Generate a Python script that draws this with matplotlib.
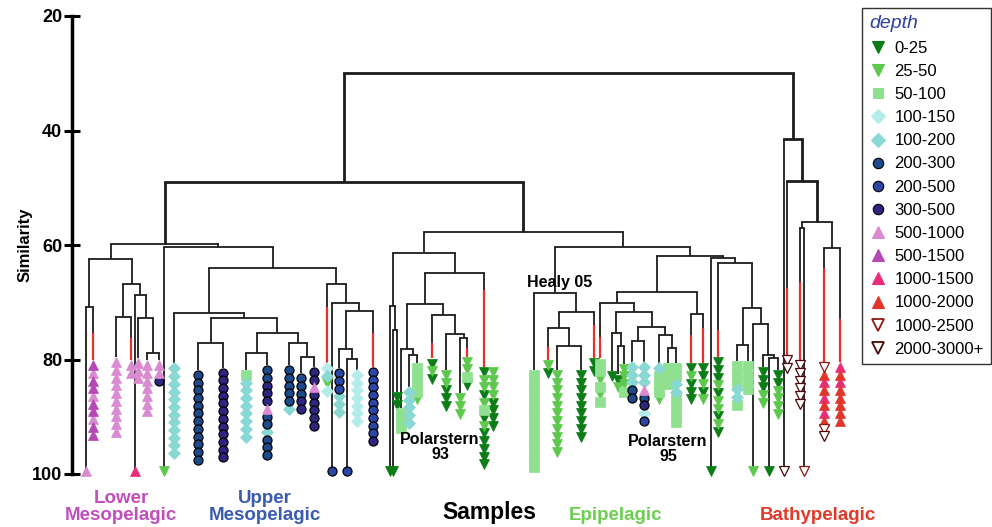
import matplotlib
matplotlib.use("Agg")
import matplotlib.pyplot as plt
from matplotlib.lines import Line2D

plt.rcParams['font.family'] = ['Liberation Sans', 'DejaVu Sans']

########## depth classes (legend) ##########
depth_codes = list("abcdefghijklmn")
depth_labels = ["0-25", "25-50", "50-100", "100-150", "100-200", "200-300", "200-500",
                "300-500", "500-1000", "500-1500", "1000-1500", "1000-2000", "1000-2500", "2000-3000+"]
depth_marker = ['v', 'v', 's', 'D', 'D', 'o', 'o', 'o', '^', '^', '^', '^', 'v', 'v']
depth_size = [7.5, 7.5, 6.5, 6.0, 6.0, 6.5, 6.5, 6.5, 7.5, 7.5, 7.5, 7.5, 7.0, 7.0]
depth_face = ['#0b7d16', '#5cc84c', '#8fe08f', '#b3ece8', '#8ad8d4', '#1d4a8a', '#2b46a5',
              '#2e2580', '#d98ad0', '#b548b5', '#ea2c7a', '#e2352a', 'white', 'white']
depth_edge = ['#0b7d16', '#5cc84c', '#8fe08f', '#b3ece8', '#8ad8d4', 'black', 'black',
              'black', '#d98ad0', '#b548b5', '#ea2c7a', '#e2352a', '#8b1a12', '#4a0808']

########## leaves (sample groups), left to right ##########
leaf_names = ["L1", "L2", "L3", "L4", "L5", "L6", "L7", "L8", "L9",
              "U1", "U2", "U3", "U4", "U5", "U6", "U7", "U8", "U9", "U10", "U11", "U12", "U13", "U14",
              "E1", "E2", "E3", "E4", "E5", "E6", "E7", "E8", "E9", "E10", "E11",
              "H1", "H2", "H3", "H4", "H5",
              "P1", "P2", "P3", "P4", "P5", "P6", "P7", "P8", "P9", "Q1", "Q2",
              "R1", "R2", "R3", "R4", "R5", "R6", "R7", "R8",
              "B1", "B2", "B3", "B4", "B5", "B6"]
leaf_x = [86, 93, 116, 131, 135, 138.3, 147.3, 159.3, 164,
          174, 198.3, 223.3, 246, 267.3, 289, 300.7, 314, 326.7, 332.3, 339, 347.3, 357.3, 373.3,
          390, 393.5, 397, 400.7, 409, 417.3, 432.3, 445.7, 460, 467.3, 484,
          534, 548, 557.5, 581, 594,
          600, 612, 618, 624, 632.3, 644, 659, 668.3, 675.7, 691, 703.3,
          710.7, 718.3, 737, 748.3, 753.3, 763, 769.3, 778.3,
          784.3, 787.3, 800, 804.3, 824, 840]
# similarity where the leaf line ends (100 = single sample at the bottom)
leaf_end = [100, 80.1, 79.6, 80.1, 100, 79.7, 80.1, 80.1, 100,
            80.66, 81.8, 81.4, 81.8, 81.0, 81.0, 82.4, 81.25, 80.6, 100, 81.5, 100, 81.8, 81.25,
            100, 100, 85.7, 88.4, 84.75, 80.66, 79.8, 81.8, 85.9, 79.5, 81.25,
            81.8, 80.1, 81.8, 81.8, 79.74,
            79.8, 82.0, 82.6, 80.7, 80.4, 80.4, 80.66, 80.66, 80.66, 80.66, 80.66,
            100, 79.6, 80.26, 80.26, 100, 81.25, 100, 81.83,
            100, 79.21, 80.1, 100, 80.4, 80.4]
# similarity where the red part of the leaf line starts (None = all black)
leaf_red = [None, 75.32, None, 76.24, None, None, None, None, None,
            None, None, None, None, None, None, None, None, 70.78, None, None, None, None, 75.42,
            None, None, None, None, None, None, 77.1, None, None, 78.0, 67.86,
            None, 77.76, None, None, 73.97,
            76.0, None, None, None, None, None, None, None, None, 75.7, 74.55,
            None, 74.85, None, None, None, None, None, None,
            None, 67.56, 66.4, None, 64.07, 72.98]
# depth class of every sample in the group, top to bottom ('|' = next column)
leaf_marks = ["i", "jijjijjijj", "iiiiiiiiii", "ii", "k", "iii", "iiiiiii", "iih", "b",
              "eeeeeeeeeeee", "ffffffffffff", "hhhhhhhhhhhh", "ceeeeeeee", "ffhhhiffefff", "fffffe",
              "fffhh", "hhihhhhh", "debd", "g", "gggeee", "g", "ddddddd", "gggggggggh",
              "a", "a", "aa", "ccc", "eeeee", "ccccb", "aba", "bbaaa", "bbb", "bbca",
              "abbabcabaaaaa|bbbbaaaa",
              "ccccccccccccc", "ba", "bbbbbbbbbbb", "aaaaaaaaa", "aa",
              "ccbcbc", "a", "ab", "bbbc", "eeeff", "eeeifhdg", "ecccb", "ccc", "cceecccc",
              "abaaa", "aabab",
              "a", "aaababbaba", "ccceec", "cccc", "b", "aaabb", "a", "aabbbb",
              "n", "nn", "nnnnnn", "m", "mlklklklmn", "klklllll"]

########## merges: (name, left, right, similarity) ##########
merges = [
    ("l78", "L7", "L8", 78.92), ("l678", "L6", "l78", 72.8), ("l5678", "L5", "l678", 68.68),
    ("l34", "L3", "L4", 72.63), ("l3_8", "l34", "l5678", 66.81), ("l12", "L1", "L2", 70.88),
    ("lower", "l12", "l3_8", 62.5),
    ("u23", "U2", "U3", 77.17), ("u78", "U7", "U8", 79.51), ("u678", "U6", "u78", 77.17),
    ("u45", "U4", "U5", 78.81), ("u4_8", "u45", "u678", 75.42), ("u2_8", "u23", "u4_8", 72.8),
    ("u1_8", "U1", "u2_8", 71.82), ("u1213", "U12", "U13", 79.91), ("u11_13", "U11", "u1213", 78.17),
    ("u11_14", "u11_13", "U14", 71.48), ("u10_14", "U10", "u11_14", 70.18),
    ("u9_14", "U9", "u10_14", 66.86), ("upper", "u1_8", "u9_14", 64.07),
    ("up9", "L9", "upper", 60.3), ("meso", "lower", "up9", 59.83),
    ("e23", "E2", "E3", 74.85), ("e123", "E1", "e23", 70.66), ("e56", "E5", "E6", 79.21),
    ("e456", "E4", "e56", 78.22), ("e910", "E9", "E10", 76.3), ("e8_10", "E8", "e910", 75.55),
    ("e7_10", "E7", "e8_10", 72.23), ("e4_10", "e456", "e7_10", 70.31),
    ("e4_11", "e4_10", "E11", 64.94), ("ps93", "e123", "e4_11", 61.34),
    ("h34", "H3", "H4", 77.64), ("h234", "H2", "h34", 74.55), ("h2_5", "h234", "H5", 71.65),
    ("healy", "H1", "h2_5", 68.43),
    ("p34", "P3", "P4", 77.6), ("p234", "P2", "p34", 75.4), ("p56", "P5", "P6", 76.7),
    ("p89", "P8", "P9", 78.0), ("p789", "P7", "p89", 75.7), ("p5_9", "p56", "p789", 74.27),
    ("p2_9", "p234", "p5_9", 71.65), ("p1_9", "P1", "p2_9", 70.08), ("q12", "Q1", "Q2", 72.1),
    ("ps95", "p1_9", "q12", 68.16),
    ("r34", "R3", "R4", 77.52), ("r78", "R7", "R8", 79.68), ("r678", "R6", "r78", 79.21),
    ("r5_8", "R5", "r678", 73.8), ("r3_8", "r34", "r5_8", 71.06), ("r2_8", "R2", "r3_8", 63.09),
    ("r1_8", "R1", "r2_8", 62.32), ("pr", "ps95", "r1_8", 61.9),
    ("epi_r", "healy", "pr", 60.27), ("epi", "ps93", "epi_r", 57.68),
    ("shallow", "meso", "epi", 49.0),
    ("b34", "B3", "B4", 56.98), ("b56", "B5", "B6", 60.58), ("b3_6", "b34", "b56", 56.03),
    ("b2_6", "B2", "b3_6", 48.77), ("bathy", "B1", "b2_6", 41.49),
    ("root", "shallow", "bathy", 29.96),
]

line_col = '#1c1c1c'
red_col = '#e8302a'

fig = plt.figure(figsize=(9.92, 5.27), dpi=100)
W, H = 992, 527
ax = fig.add_axes([72 / W, 1 - 474 / H, (860 - 72) / W, (474 - 16) / H])
ax.set_xlim(72, 860)
ax.set_ylim(100, 20)

# x position of every node (parent = middle of its two children)
pos = dict(zip(leaf_names, leaf_x))
merge_h = {}
for name, l, r, h in merges:
    pos[name] = (pos[l] + pos[r]) / 2
    merge_h[name] = h
leaf_idx = {n: i for i, n in enumerate(leaf_names)}


def drop(child, h, lw):
    x = pos[child]
    if child in merge_h:
        ax.plot([x, x], [h, merge_h[child]], color=line_col, lw=lw, clip_on=False, solid_capstyle='butt')
        return
    i = leaf_idx[child]
    end, red = leaf_end[i], leaf_red[i]
    if red is None:
        ax.plot([x, x], [h, end], color=line_col, lw=1.3, clip_on=False, solid_capstyle='butt')
    else:
        ax.plot([x, x], [h, red], color=line_col, lw=1.3, clip_on=False, solid_capstyle='butt')
        ax.plot([x, x], [red, end], color=red_col, lw=1.6, clip_on=False, solid_capstyle='butt')


for name, l, r, h in merges:
    lw = 2.0 if h < 55 else 1.3
    ax.plot([pos[l], pos[r]], [h, h], color=line_col, lw=lw, solid_capstyle='projecting')
    drop(l, h, lw)
    drop(r, h, 1.3 if r in leaf_idx else lw)

# sample markers
pts = {c: ([], []) for c in depth_codes}
for i, marks in enumerate(leaf_marks):
    for k, col in enumerate(marks.split('|')):
        x = leaf_x[i] + 9 * k
        for j, c in enumerate(col):
            y = 99.4 if leaf_end[i] >= 100 else leaf_end[i] + 0.9 + 1.345 * j
            pts[c][0].append(x)
            pts[c][1].append(y)
for k, c in enumerate(depth_codes):
    ax.plot(pts[c][0], pts[c][1], ls='none', marker=depth_marker[k], ms=depth_size[k],
            mfc=depth_face[k], mec=depth_edge[k], mew=0.9 if depth_face[k] == 'white' or depth_marker[k] == 'o' else 0.5,
            clip_on=False, zorder=3)

# axis
for s in ['top', 'right', 'bottom']:
    ax.spines[s].set_visible(False)
ax.spines['left'].set_linewidth(2.5)
ax.set_xticks([])
ax.set_yticks([20, 40, 60, 80, 100])
ax.tick_params(axis='y', direction='inout', length=12, width=2.2, pad=1, labelsize=13)
for t in ax.get_yticklabels():
    t.set_fontweight('bold')
ax.set_ylabel("Similarity", fontweight='bold', fontsize=12)
ax.yaxis.set_label_coords(-0.050, 0.5)

# annotations
ax.text(560, 66.6, "Healy 05", fontsize=11.5, fontweight='bold', ha='center', va='center')
ax.text(440, 95.2, "Polarstern\n93", fontsize=11.5, fontweight='bold', ha='center', va='center', linespacing=1.0)
ax.text(668, 95.6, "Polarstern\n95", fontsize=11.5, fontweight='bold', ha='center', va='center', linespacing=1.0)

fig.text(121 / W, 1 - 507 / H, "Lower\nMesopelagic", color='#c04fbd', fontsize=13.5, fontweight='bold',
         ha='center', va='center', linespacing=1.0)
fig.text(265 / W, 1 - 507 / H, "Upper\nMesopelagic", color='#3a5bb0', fontsize=13.5, fontweight='bold',
         ha='center', va='center', linespacing=1.0)
fig.text(489 / W, 1 - 513 / H, "Samples", color='black', fontsize=16.5, fontweight='bold', ha='center', va='center')
fig.text(615 / W, 1 - 516 / H, "Epipelagic", color='#6ccf4f', fontsize=13.5, fontweight='bold', ha='center', va='center')
fig.text(818 / W, 1 - 516 / H, "Bathypelagic", color='#e03a2a', fontsize=13.5, fontweight='bold', ha='center', va='center')

# legend
handles = [Line2D([], [], ls='none', marker=depth_marker[k], ms=depth_size[k] + 1, mfc=depth_face[k],
                  mec=depth_edge[k], mew=1.3 if depth_face[k] == 'white' else 0.8) for k in range(len(depth_codes))]
leg = fig.legend(handles, depth_labels, loc='upper left', bbox_to_anchor=(862 / W, 1 - 8 / H),
                 title="depth", fontsize=12, frameon=True, fancybox=False, edgecolor='black',
                 handlelength=1.0, handletextpad=0.5, labelspacing=0.49, borderpad=0.45, borderaxespad=0)
leg.get_frame().set_linewidth(1.0)
leg.get_title().set_color('#2f3fa0')
leg.get_title().set_fontstyle('italic')
leg.get_title().set_fontsize(14)
leg._legend_box.align = 'left'

fig.savefig("out.png", dpi=100)
